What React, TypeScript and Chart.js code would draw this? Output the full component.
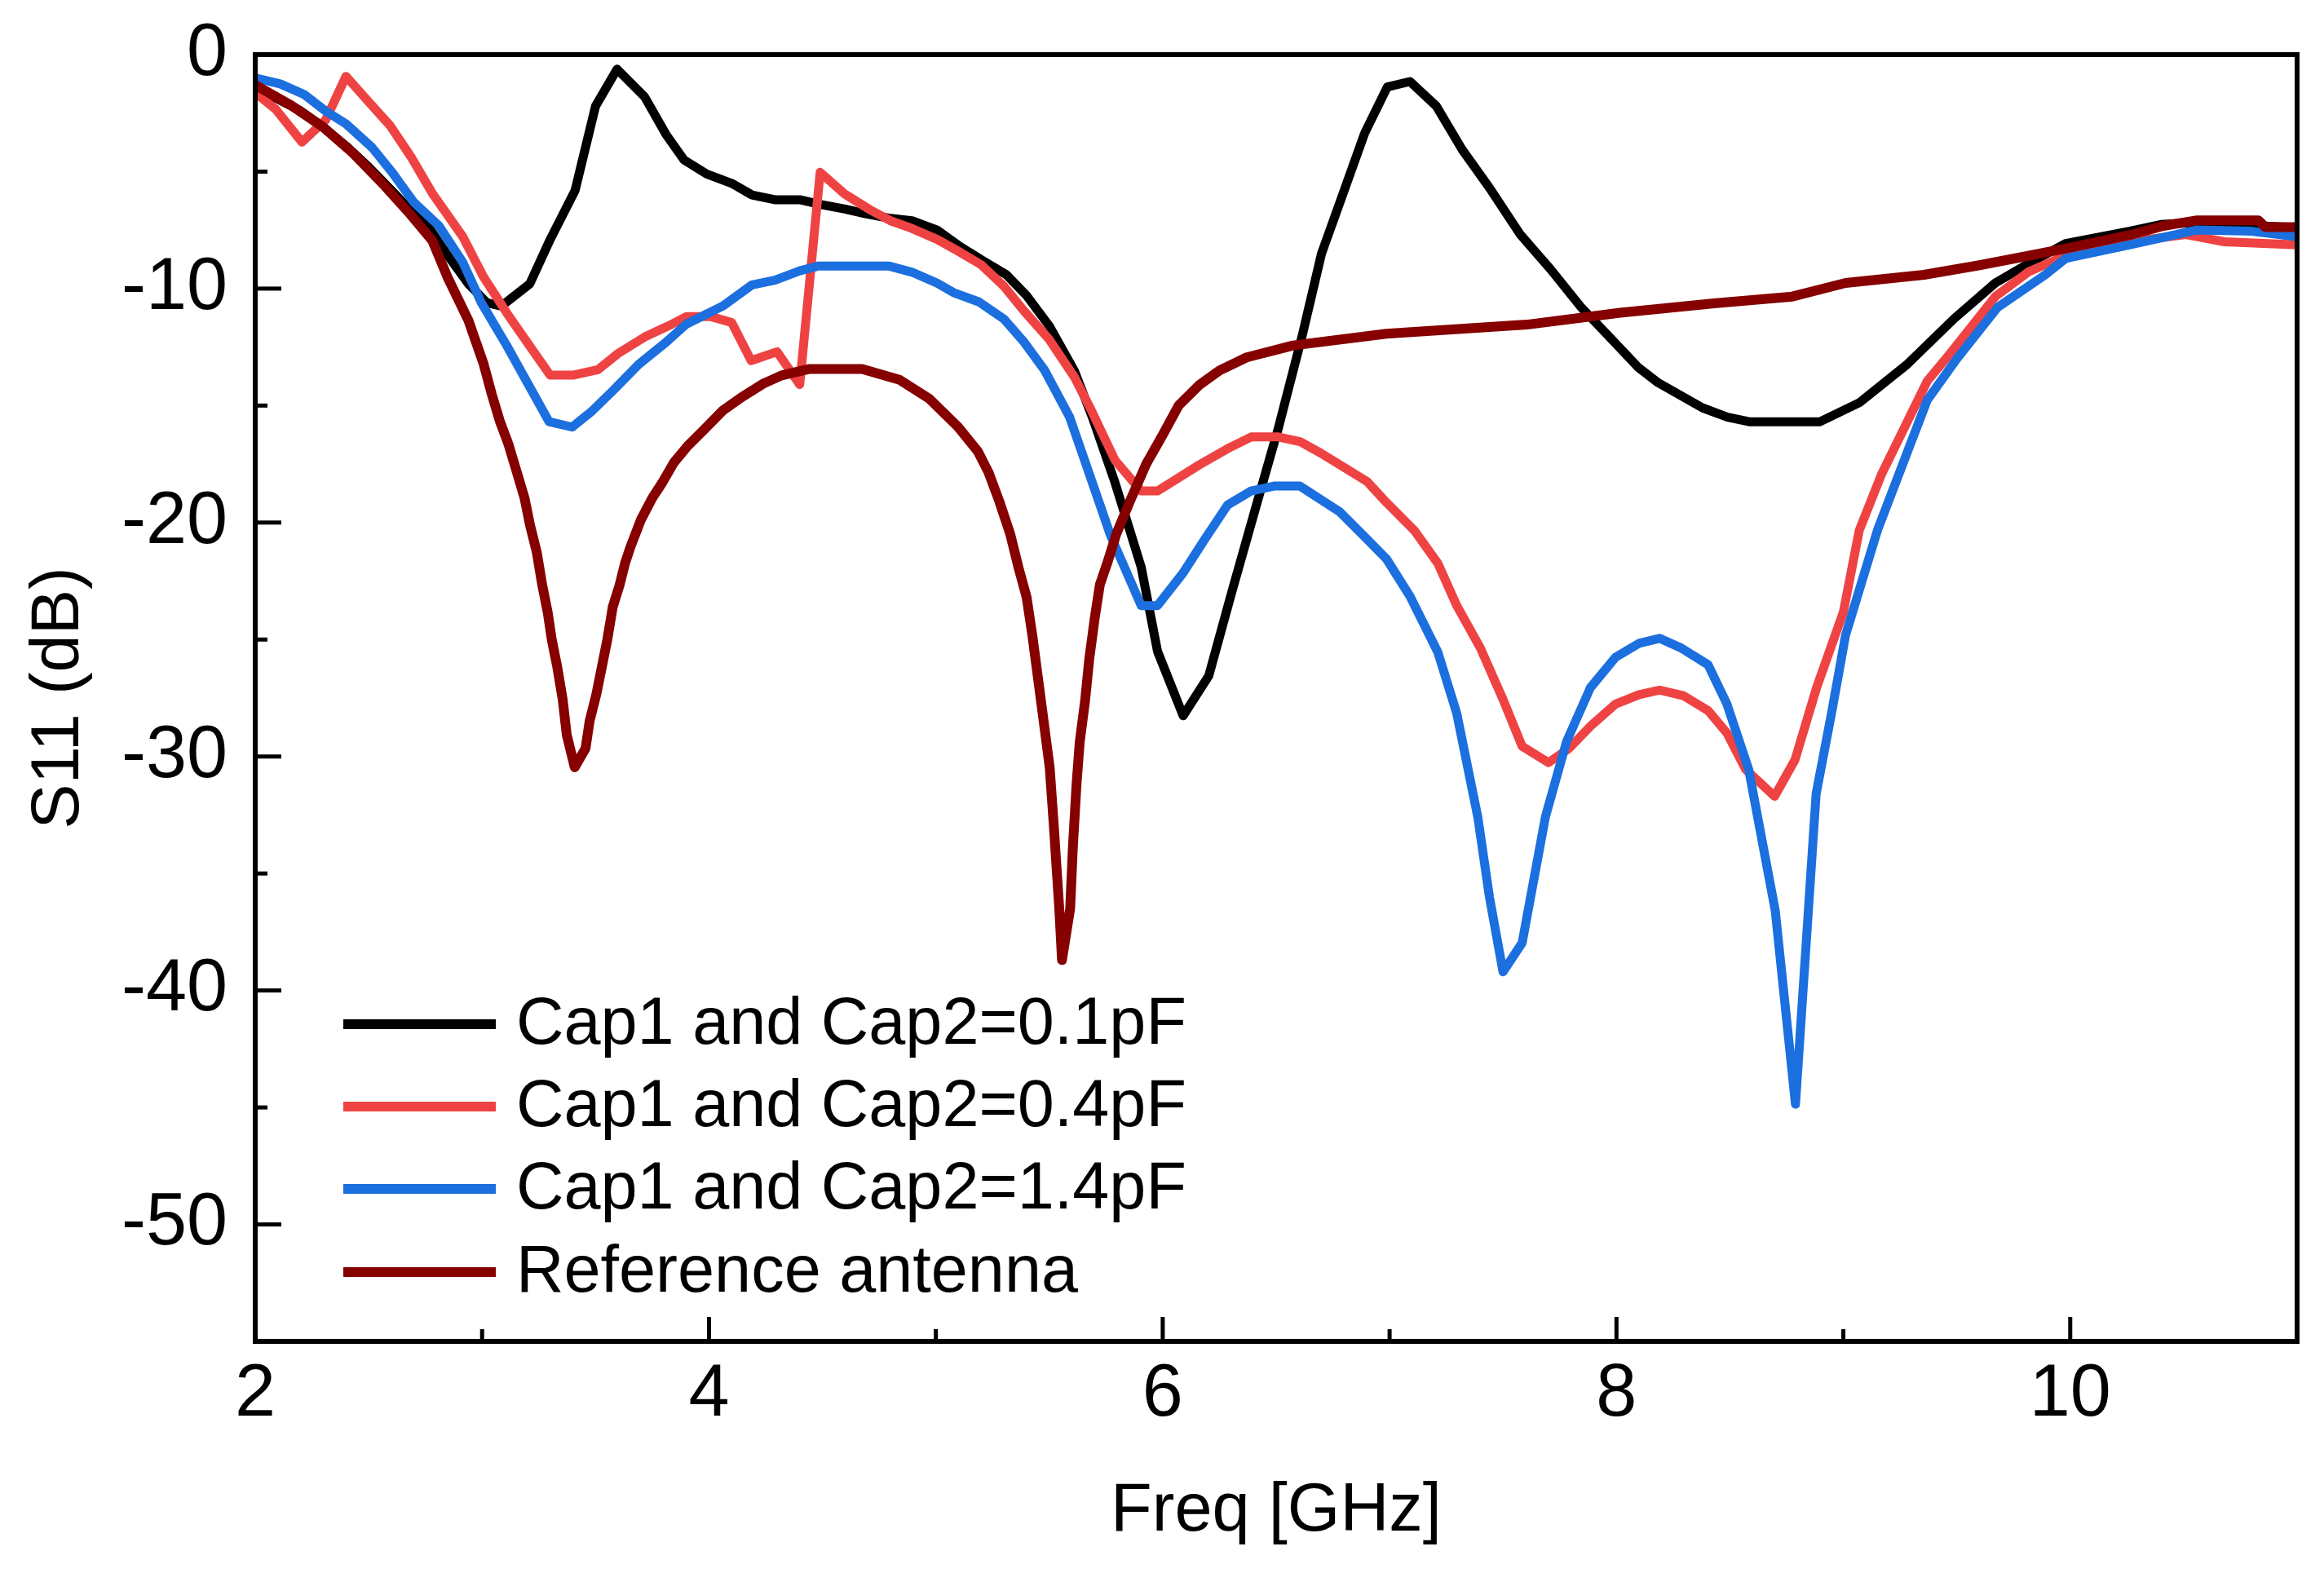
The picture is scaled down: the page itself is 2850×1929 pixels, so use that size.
import React, { useEffect, useRef } from "react";
import { Chart, registerables } from "chart.js";

Chart.register(...registerables);

// ---------- data (frequency GHz, S11 dB) ----------
const seriesLabels = [
  "Cap1 and Cap2=0.1pF",
  "Cap1 and Cap2=0.4pF",
  "Cap1 and Cap2=1.4pF",
  "Reference antenna",
];

const cap01: [number, number][] = [
  [2.0, -1.5], [2.1, -1.9], [2.2, -2.4], [2.3, -3.1], [2.4, -3.9], [2.5, -4.8], [2.6, -5.8], [2.7, -6.8],
  [2.76, -7.3], [2.85, -8.6], [2.94, -9.8], [3.02, -10.6], [3.085, -10.75], [3.21, -9.8], [3.3, -7.9],
  [3.41, -5.8], [3.5, -2.2], [3.595, -0.62], [3.716, -1.8], [3.81, -3.4], [3.89, -4.5], [3.99, -5.1],
  [4.1, -5.5], [4.19, -6.0], [4.29, -6.2], [4.4, -6.2], [4.49, -6.4], [4.6, -6.6], [4.69, -6.8], [4.8, -7.0],
  [4.895, -7.1], [5.006, -7.5], [5.106, -8.2], [5.206, -8.8], [5.31, -9.4], [5.4, -10.3], [5.5, -11.6],
  [5.61, -13.5], [5.69, -15.5], [5.79, -18.3], [5.905, -21.9], [5.977, -25.5], [6.09, -28.26], [6.203, -26.55],
  [6.305, -22.95], [6.41, -19.35], [6.51, -15.95], [6.615, -12.0], [6.7, -8.5], [6.8, -5.8], [6.89, -3.36],
  [6.99, -1.38], [7.09, -1.15], [7.206, -2.2], [7.32, -4.06], [7.44, -5.69], [7.574, -7.66], [7.71, -9.18],
  [7.84, -10.75], [7.97, -12.08], [8.095, -13.36], [8.18, -14.0], [8.38, -15.1], [8.49, -15.5], [8.585, -15.69],
  [8.897, -15.69], [9.07, -14.88], [9.28, -13.25], [9.49, -11.27], [9.67, -9.76], [9.815, -8.94], [9.98, -8.07],
  [10.26, -7.55], [10.4, -7.26], [10.6, -7.15], [10.8, -7.3], [11.0, -7.4],
];

const cap04: [number, number][] = [
  [2.0, -1.63], [2.09, -2.33], [2.206, -3.74], [2.31, -2.8], [2.4, -0.93], [2.5, -2.02], [2.595, -3.04],
  [2.686, -4.36], [2.78, -5.92], [2.915, -7.78], [3.006, -9.5], [3.11, -11.06], [3.21, -12.46], [3.3, -13.7],
  [3.4, -13.7], [3.51, -13.47], [3.6, -12.77], [3.716, -12.07], [3.82, -11.6], [3.9, -11.2], [4.01, -11.2],
  [4.1, -11.45], [4.186, -13.08], [4.3, -12.7], [4.4, -14.1], [4.49, -5.03], [4.6, -5.97], [4.71, -6.63],
  [4.8, -7.1], [4.895, -7.43], [5.006, -7.9], [5.106, -8.44], [5.198, -8.97], [5.3, -9.9], [5.39, -10.97],
  [5.5, -12.18], [5.61, -13.77], [5.68, -15.1], [5.79, -17.34], [5.905, -18.65], [5.977, -18.65], [6.16, -17.54],
  [6.286, -16.84], [6.39, -16.34], [6.51, -16.34], [6.605, -16.54], [6.698, -17.04], [6.9, -18.24], [6.986, -19.14],
  [7.11, -20.35], [7.213, -21.75], [7.296, -23.55], [7.4, -25.36], [7.5, -27.56], [7.584, -29.56], [7.7, -30.26],
  [7.79, -29.66], [7.89, -28.66], [7.996, -27.76], [8.1, -27.36], [8.19, -27.16], [8.295, -27.4], [8.404, -28.04],
  [8.487, -29.0], [8.57, -30.56], [8.697, -31.7], [8.787, -30.14], [8.882, -27.06], [9.0, -23.83], [9.07, -20.34],
  [9.17, -17.9], [9.37, -13.95], [9.47, -12.78], [9.67, -10.34], [9.815, -9.29], [9.965, -8.65], [10.26, -8.0],
  [10.51, -7.69], [10.68, -8.0], [11.0, -8.13],
];

const cap14: [number, number][] = [
  [2.0, -1.0], [2.11, -1.25], [2.217, -1.71], [2.31, -2.41], [2.4, -2.96], [2.515, -3.97], [2.606, -5.06],
  [2.698, -6.3], [2.81, -7.32], [2.915, -8.88], [2.996, -10.59], [3.11, -12.46], [3.295, -15.69], [3.397, -15.92],
  [3.486, -15.22], [3.58, -14.33], [3.69, -13.24], [3.81, -12.3], [3.9, -11.52], [4.06, -10.75], [4.19, -9.84],
  [4.29, -9.64], [4.4, -9.24], [4.48, -9.04], [4.795, -9.04], [4.895, -9.3], [5.006, -9.77], [5.078, -10.17],
  [5.19, -10.57], [5.3, -11.3], [5.39, -12.3], [5.48, -13.5], [5.59, -15.5], [5.665, -17.6], [5.77, -20.55],
  [5.905, -23.55], [5.977, -23.55], [6.09, -22.15], [6.183, -20.75], [6.286, -19.25], [6.39, -18.65],
  [6.49, -18.44], [6.605, -18.44], [6.78, -19.54], [6.894, -20.65], [6.986, -21.55], [7.09, -23.15],
  [7.213, -25.55], [7.296, -28.16], [7.389, -32.6], [7.44, -36.0], [7.5, -39.2], [7.584, -37.97], [7.687, -32.57],
  [7.78, -29.36], [7.885, -27.06], [7.996, -25.76], [8.1, -25.16], [8.19, -24.95], [8.285, -25.36], [8.404, -26.08],
  [8.487, -27.76], [8.583, -30.56], [8.7, -36.6], [8.789, -44.86], [8.88, -31.6], [8.95, -28.04], [9.01, -24.8],
  [9.15, -20.34], [9.37, -14.76], [9.5, -13.0], [9.68, -10.8], [9.89, -9.41], [9.98, -8.71], [10.26, -8.13],
  [10.56, -7.49], [10.8, -7.55], [11.0, -7.78],
];

const reference: [number, number][] = [
  [2.0, -1.3], [2.16, -2.18], [2.3, -3.1], [2.43, -4.2], [2.57, -5.6], [2.686, -6.85], [2.78, -7.94],
  [2.847, -9.5], [2.94, -11.37], [3.006, -13.2], [3.043, -14.53], [3.079, -15.69], [3.115, -16.62],
  [3.151, -17.78], [3.187, -18.95], [3.211, -20.1], [3.241, -21.27], [3.265, -22.67], [3.289, -23.83],
  [3.307, -25.0], [3.331, -26.16], [3.355, -27.55], [3.373, -29.07], [3.408, -30.46], [3.456, -29.65],
  [3.474, -28.48], [3.504, -27.32], [3.528, -26.16], [3.552, -25.0], [3.576, -23.6], [3.606, -22.67],
  [3.63, -21.74], [3.654, -21.04], [3.7, -19.88], [3.75, -18.95], [3.797, -18.25], [3.845, -17.44],
  [3.905, -16.74], [3.977, -16.04], [4.06, -15.22], [4.144, -14.64], [4.24, -14.06], [4.32, -13.71],
  [4.44, -13.44], [4.675, -13.44], [4.84, -13.9], [4.97, -14.7], [5.097, -15.9], [5.185, -16.96],
  [5.232, -17.85], [5.28, -19.1], [5.328, -20.5], [5.365, -21.95], [5.4, -23.19], [5.425, -24.8],
  [5.454, -26.93], [5.478, -28.7], [5.502, -30.49], [5.52, -32.97], [5.532, -34.75], [5.544, -36.5],
  [5.556, -38.7], [5.592, -36.5], [5.604, -33.87], [5.62, -31.2], [5.634, -29.4], [5.658, -27.6],
  [5.676, -25.85], [5.7, -24.1], [5.723, -22.65], [5.76, -21.6], [5.795, -20.5], [5.855, -19.1],
  [5.927, -17.5], [6.0, -16.25], [6.07, -15.0], [6.16, -14.13], [6.25, -13.5], [6.37, -12.94],
  [6.575, -12.43], [6.986, -11.93], [7.605, -11.54], [8.017, -11.03], [8.43, -10.63], [8.775, -10.34],
  [9.01, -9.76], [9.355, -9.41], [9.6, -9.0], [9.815, -8.6], [10.0, -8.25], [10.26, -7.72], [10.41, -7.32],
  [10.56, -7.08], [10.83, -7.08], [10.86, -7.37], [11.0, -7.37],
];

const seriesColors = ["#000000", "#EF4343", "#1B6FDE", "#860000"];
const seriesData = [cap01, cap04, cap14, reference];
const drawOrder = [3, 2, 1, 0]; // reference on top

const xMin = 2;
const xMax = 11;
const yMin = -55;
const yMax = 0;
const xTitle = "Freq [GHz]";
const yTitle = "S11 (dB)";

const FONT = '"Liberation Sans", Arial, Helvetica, sans-serif';

const frameAndLegend = {
  id: "frameAndLegend",
  afterDatasetsDraw(chart: any) {
    const { ctx, chartArea: a, scales } = chart;
    ctx.save();
    // ticks (inward) on bottom and left axes
    ctx.strokeStyle = "#000";
    ctx.lineWidth = 5;
    ctx.lineCap = "butt";
    for (const t of scales.x.ticks) {
      const px = scales.x.getPixelForValue(t.value);
      const len = t.value % 2 === 0 ? 30 : 15;
      ctx.beginPath();
      ctx.moveTo(px, a.bottom);
      ctx.lineTo(px, a.bottom - len);
      ctx.stroke();
    }
    for (const t of scales.y.ticks) {
      const py = scales.y.getPixelForValue(t.value);
      const len = t.value % 10 === 0 ? 32 : 15;
      ctx.beginPath();
      ctx.moveTo(a.left, py);
      ctx.lineTo(a.left + len, py);
      ctx.stroke();
    }
    // frame
    ctx.lineWidth = 6;
    ctx.strokeRect(a.left, a.top, a.right - a.left, a.bottom - a.top);

    // legend
    const ds = chart.data.datasets;
    const rowY = [1256, 1357, 1458, 1560];
    ctx.font = `81px ${FONT}`;
    ctx.textBaseline = "alphabetic";
    ctx.textAlign = "left";
    for (let i = 0; i < ds.length; i++) {
      const y = rowY[i];
      ctx.strokeStyle = ds[i].borderColor;
      ctx.lineWidth = 12;
      ctx.beginPath();
      ctx.moveTo(421, y);
      ctx.lineTo(608, y);
      ctx.stroke();
      ctx.fillStyle = "#000";
      ctx.fillText(ds[i].label, 633, y + 24);
    }
    ctx.restore();
  },
};

export default function App() {
  const ref = useRef<HTMLCanvasElement>(null);

  useEffect(() => {
    const canvas = ref.current;
    if (!canvas) return;
    const chart = new Chart(canvas, {
      type: "line",
      data: {
        datasets: seriesData.map((pts, i) => ({
          label: seriesLabels[i],
          data: pts.map(([x, y]) => ({ x, y })),
          borderColor: seriesColors[i],
          backgroundColor: seriesColors[i],
          borderWidth: i === 3 ? 12 : 11,
          pointRadius: 0,
          pointHoverRadius: 0,
          tension: 0,
          fill: false,
          borderJoinStyle: "round",
          borderCapStyle: "round",
          order: drawOrder[i],
        })),
      },
      options: {
        responsive: false,
        maintainAspectRatio: false,
        devicePixelRatio: 1,
        animation: false,
        events: [],
        layout: { padding: { left: 0, right: 33, top: 67, bottom: 0 } },
        plugins: {
          legend: { display: false },
          tooltip: { enabled: false },
        },
        scales: {
          x: {
            type: "linear",
            min: xMin,
            max: xMax,
            grid: { display: false, drawTicks: false },
            border: { display: false },
            ticks: {
              stepSize: 1,
              autoSkip: false,
              maxRotation: 0,
              padding: 12,
              color: "#000",
              font: { family: FONT, size: 90 },
              callback: (v: any) => (Number(v) % 2 === 0 ? String(v) : ""),
            },
            title: {
              display: true,
              text: xTitle,
              color: "#000",
              font: { family: FONT, size: 83 },
              padding: { top: 0, bottom: 25 },
            },
            afterFit: (s: any) => {
              s.height = 284;
            },
          },
          y: {
            type: "linear",
            min: yMin,
            max: yMax,
            grid: { display: false, drawTicks: false },
            border: { display: false },
            ticks: {
              stepSize: 5,
              autoSkip: false,
              padding: 34,
              color: "#000",
              font: { family: FONT, size: 90, lineHeight: 0.5 },
              callback: (v: any) => (Number(v) % 10 === 0 ? String(v) : ""),
            },
            title: {
              display: true,
              text: yTitle,
              color: "#000",
              font: { family: FONT, size: 83 },
              padding: { top: 23, bottom: 0 },
            },
            afterFit: (s: any) => {
              s.width = 313;
            },
          },
        },
      },
      plugins: [frameAndLegend],
    } as any);
    return () => chart.destroy();
  }, []);

  return (
    <div
      style={{
        position: "fixed",
        left: 0,
        top: 0,
        width: 2850,
        height: 1929,
        background: "#fff",
        overflow: "hidden",
      }}
    >
      <canvas ref={ref} width={2850} height={1929} style={{ width: 2850, height: 1929, display: "block" }} />
    </div>
  );
}
